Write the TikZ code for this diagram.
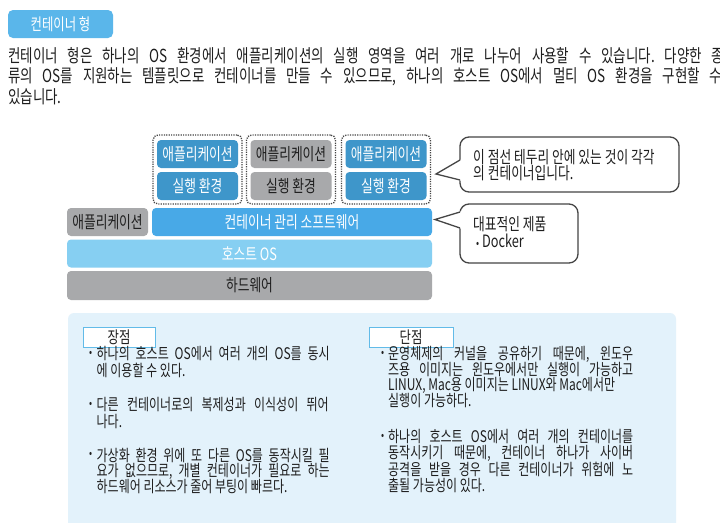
\documentclass[tikz,border=0pt]{standalone}
\usepackage{fontspec}
\setmainfont{Noto Sans CJK KR}[FakeStretch=0.75]
\definecolor{tabc}{HTML}{5AB6EA}
\definecolor{dblue}{HTML}{3E96CA}
\definecolor{gbox}{HTML}{A8A9AB}
\definecolor{mgmt}{HTML}{48A9E7}
\definecolor{hostc}{HTML}{86CFF2}
\definecolor{panelc}{HTML}{E3F2FB}
\definecolor{lborder}{HTML}{62BBE8}
\definecolor{txt}{HTML}{1E1E1E}
\definecolor{callc}{HTML}{454545}
\newcommand\jl[2]{\makebox[#1][s]{#2}}
\newcommand\bul{{\fontsize{12}{12}\selectfont •}}
\frenchspacing
\begin{document}
\begin{tikzpicture}[x=1pt,y=-1pt,
  txtline/.style={anchor=west, inner sep=0pt, text=txt},
  para/.style={txtline, font=\fontsize{18}{20}\selectfont},
  small/.style={txtline, font=\fontsize{16}{18}\selectfont},
  cfont/.style={txtline, font=\fontsize{17}{19}\selectfont},
  layer/.style={rounded corners=4pt, inner sep=0pt, font=\fontsize{17}{19}\selectfont},
  bluebox/.style={layer, fill=dblue, text=white, minimum width=81pt, minimum height=28pt},
  graybox/.style={layer, fill=gbox, text=txt, minimum width=81pt, minimum height=28pt},
  dotbox/.style={draw=callc, line width=1.3pt, dash pattern=on 1.2pt off 1.2pt, rounded corners=5pt, minimum width=89pt, minimum height=69pt, inner sep=0pt},
  callout/.style={draw=callc, line width=1.3pt, fill=white},
  lbl/.style={draw=lborder, line width=1pt, fill=white, minimum height=20pt, inner sep=0pt, font=\fontsize{16.5}{18}\selectfont, text=txt}
]
\useasboundingbox (0,0) rectangle (720,522);
\fill[white] (0,0) rectangle (720,522);
\clip (0,0) rectangle (720,522);

% title tab
\node[fill=tabc, rounded corners=5pt, minimum width=105pt, minimum height=28pt, inner sep=0pt, text=white, font=\fontsize{16.5}{18}\selectfont] (tab) at (60.5,24) {컨테이너 형};

% paragraph
\node[para] (p1) at (8,56) {\jl{716pt}{컨테이너 형은 하나의 OS 환경에서 애플리케이션의 실행 영역을 여러 개로 나누어 사용할 수 있습니다. 다양한 종}};
\node[para] (p2) at (8,77) {\jl{714pt}{류의 OS를 지원하는 템플릿으로 컨테이너를 만들 수 있으므로, 하나의 호스트 OS에서 멀티 OS 환경을 구현할 수}};
\node[para] (p3) at (8,97) {있습니다.};

% containers
\node[dotbox] (d1) at (197.5,169.5) {};
\node[dotbox] (d2) at (291,169.5) {};
\node[dotbox] (d3) at (386,169.5) {};
\node[bluebox] (a1) at (197.5,154) {애플리케이션};
\node[bluebox] (r1) at (197.5,186) {실행 환경};
\node[graybox] (a2) at (291,154) {애플리케이션};
\node[graybox] (r2) at (291,186) {실행 환경};
\node[bluebox] (a3) at (386,154) {애플리케이션};
\node[bluebox] (r3) at (386,186) {실행 환경};

% layers
\node[graybox] (la) at (107.5,222) {애플리케이션};
\node[layer, fill=mgmt, text=white, minimum width=280pt, minimum height=28pt] (mg) at (292,222) {컨테이너 관리 소프트웨어};
\node[layer, fill=hostc, text=white, minimum width=365pt, minimum height=28pt] (host) at (249.5,253.5) {호스트 OS};
\node[layer, fill=gbox, text=txt, minimum width=365pt, minimum height=29pt] (hw) at (249.5,285.5) {하드웨어};

% callout 1
\draw[callout, rounded corners=9pt] (460,137) rectangle (679,192);
\fill[white] (436,174) -- (462,159) -- (462,181) -- cycle;
\draw[callc, line width=1.3pt, line join=miter] (460,160) -- (436,174) -- (460,180);
\node[cfont] (c1a) at (473,157) {이 점선 테두리 안에 있는 것이 각각};
\node[cfont] (c1b) at (473,173) {의 컨테이너입니다.};

% callout 2
\draw[callout, rounded corners=9pt] (460,204) rectangle (578,263);
\fill[white] (435,219.5) -- (462,211) -- (462,229) -- cycle;
\draw[callc, line width=1.3pt, line join=miter] (460,212) -- (435,219.5) -- (460,228);
\node[cfont] (c2a) at (473,224) {대표적인 제품};
\node[cfont] (c2b) at (476,241) {\bul\,Docker};

% panel
\fill[panelc, rounded corners=6pt] (68,313) rectangle (676,540);
\node[lbl, minimum width=72pt] (adv) at (119,337) {장점};
\node[lbl, minimum width=84pt] (dis) at (411,337) {단점};

% left bullets
\node[small] (b1) at (89,354) {\bul};
\node[small] (l1) at (96.5,354) {\jl{233pt}{하나의 호스트 OS에서 여러 개의 OS를 동시}};
\node[small] (l2) at (96.5,370.5) {에 이용할 수 있다.};
\node[small] (b2) at (89,405) {\bul};
\node[small] (l3) at (96.5,405) {\jl{232pt}{다른 컨테이너로의 복제성과 이식성이 뛰어}};
\node[small] (l4) at (96.5,421.5) {나다.};
\node[small] (b3) at (89,455) {\bul};
\node[small] (l5) at (96.5,455) {\jl{233pt}{가상화 환경 위에 또 다른 OS를 동작시킬 필}};
\node[small] (l6) at (96.5,471) {\jl{233pt}{요가 없으므로, 개별 컨테이너가 필요로 하는}};
\node[small] (l7) at (96.5,487) {하드웨어 리소스가 줄어 부팅이 빠르다.};

% right bullets
\node[small] (b4) at (381,354) {\bul};
\node[small] (r1l) at (388,354) {\jl{245pt}{운영체제의 커널을 공유하기 때문에, 윈도우}};
\node[small] (r2l) at (388,369.5) {\jl{245pt}{즈용 이미지는 윈도우에서만 실행이 가능하고}};
\node[small] (r3l) at (388,385.5) {LINUX, Mac용 이미지는 LINUX와 Mac에서만};
\node[small] (r4l) at (388,401) {실행이 가능하다.};
\node[small] (b5) at (381,437) {\bul};
\node[small] (r5l) at (388,437) {\jl{245pt}{하나의 호스트 OS에서 여러 개의 컨테이너를}};
\node[small] (r6l) at (388,453) {\jl{245pt}{동작시키기 때문에, 컨테이너 하나가 사이버}};
\node[small] (r7l) at (388,469) {\jl{245pt}{공격을 받을 경우 다른 컨테이너가 위험에 노}};
\node[small] (r8l) at (388,485) {출될 가능성이 있다.};
\end{tikzpicture}
\end{document}
